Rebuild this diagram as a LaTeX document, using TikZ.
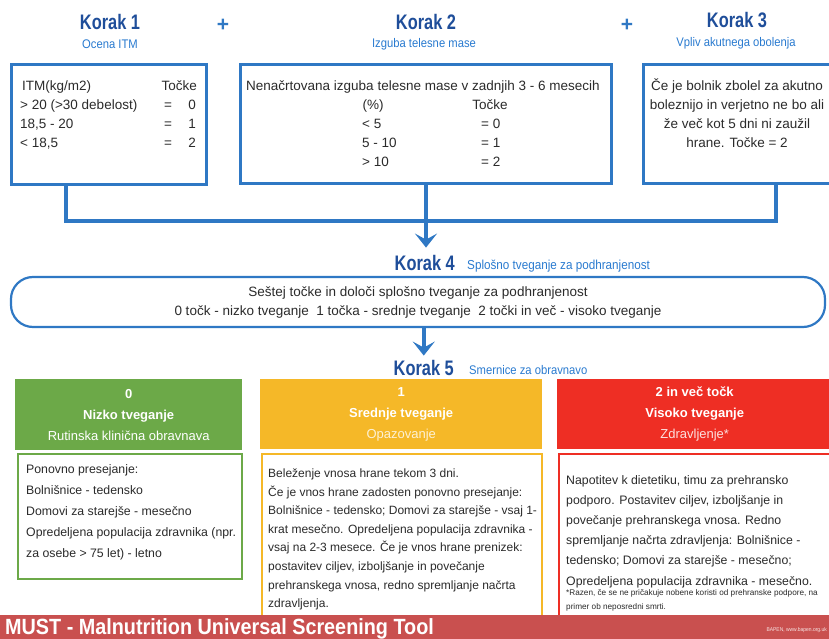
\documentclass[tikz,border=0pt]{standalone}
\usepackage{fontspec}
\setmainfont{Liberation Sans}
\newfontfamily\narrowf[FakeStretch=0.78]{Liberation Sans}
\newfontfamily\condf[FakeStretch=0.9]{Liberation Sans}
\usetikzlibrary{arrows.meta}
\definecolor{mblue}{HTML}{2F78C4}
\definecolor{mdark}{HTML}{1F4E9A}
\definecolor{msub}{HTML}{2A7BD0}
\definecolor{mgreen}{HTML}{6CA948}
\definecolor{myellow}{HTML}{F5B828}
\definecolor{mred}{HTML}{EE2E24}
\definecolor{mbar}{HTML}{C9504F}
\definecolor{mtext}{HTML}{2B2B2B}
\begin{document}
\begin{tikzpicture}[x=1pt,y=-1pt,
  bluebox/.style={draw=mblue, line width=3pt, fill=white, inner sep=0pt},
  conn/.style={draw=mblue, line width=4pt, line join=miter},
  arr/.style={-{Stealth[length=14pt,width=22pt,inset=6pt]}},
  txt/.style={text=mtext, inner sep=0pt, font=\fontsize{13.5}{19}\selectfont},
  ktitle/.style={text=mdark, inner sep=0pt, font=\narrowf\bfseries\fontsize{21}{21}\selectfont},
  ksub/.style={text=msub, inner sep=0pt, font=\condf\fontsize{12.5}{12.5}\selectfont},
  plus/.style={text=mblue, inner sep=0pt, font=\bfseries\fontsize{21}{21}\selectfont},
  head/.style={inner sep=0pt, anchor=north west, align=center, text=white, font=\fontsize{13}{21}\selectfont},
  body/.style={fill=white, line width=2pt, inner sep=0pt, anchor=north west},
  btxt/.style={text=mtext, inner sep=0pt, anchor=north west, align=left}
]
\path[use as bounding box, clip] (0,0) rectangle (829,639);
\fill[white] (0,0) rectangle (829,639);

% titles
\node[ktitle, anchor=base] (k1) at (110,29.5) {Korak 1};
\node[ksub, anchor=base] (s1) at (110,49) {Ocena ITM};
\node[plus] (p1) at (223,25) {+};
\node[ktitle, anchor=base] (k2) at (426,29.5) {Korak 2};
\node[ksub, anchor=base] (s2) at (424,48) {Izguba telesne mase};
\node[plus] (p2) at (627,25) {+};
\node[ktitle, anchor=base] (k3) at (737,27.5) {Korak 3};
\node[ksub, anchor=base] (s3) at (736,46.5) {Vpliv akutnega obolenja};

% step boxes
\node[bluebox, minimum width=195pt, minimum height=120pt, anchor=north west] (box1) at (10,63) {};
\node[bluebox, minimum width=371pt, minimum height=119pt, anchor=north west] (box2) at (239,63) {};
\node[bluebox, minimum width=200pt, minimum height=119pt, anchor=north west] (box3) at (642,63) {};

% box 1 text
\node[txt, anchor=base west] (b1h) at (22,90.5) {ITM(kg/m2)};
\node[txt, anchor=base east] (b1t) at (197,90.5) {Točke};
\foreach \y/\a/\p [count=\i] in {109.5/{> 20 (>30 debelost)}/0, 128.5/{18,5 - 20}/1, 147.5/{< 18,5}/2}{
  \node[txt, anchor=base west] (r\i) at (20,\y) {\a};
  \node[txt, anchor=base] (e\i) at (168,\y) {=};
  \node[txt, anchor=base east] (q\i) at (196,\y) {\p};
}
% box 2 text
\node[txt, anchor=base west] (b2h) at (246,90.5) {Nenačrtovana izguba telesne mase v zadnjih 3 - 6 mesecih};
\node[txt, anchor=base] (b2p) at (373,109.5) {(\%)};
\node[txt, anchor=base] (b2t) at (490,109.5) {Točke};
\foreach \y/\a/\p [count=\i] in {128.5/{< 5}/0, 147.5/{5 - 10}/1, 166.5/{> 10}/2}{
  \node[txt, anchor=base west] (w\i) at (362,\y) {\a};
  \node[txt, anchor=base west] (v\i) at (481,\y) {= \p};
}
% box 3 text
\node[txt, align=center] (b3) at (737,113) {Če je bolnik zbolel za akutno\\boleznijo in verjetno ne bo ali\\že več kot 5 dni ni zaužil\\hrane. Točke = 2};

% connectors
\coordinate (c1) at (66,221);
\coordinate (c3) at (776,221);
\draw[conn] (box1.south -| c1) -- (c1) -- (c3) -- (box3.south -| c3);

% step 4
\node[ktitle, anchor=base east] (k4) at (455,270) {Korak 4};
\node[ksub, anchor=base west, font=\condf\fontsize{13}{13}\selectfont] (s4) at (467,269) {Splošno tveganje za podhranjenost};
\draw[conn, arr] (box2.south) -- ([yshift=7pt]box2.south |- k4.north);
\node[draw=mblue, line width=2.2pt, rounded corners=22pt, minimum width=814pt, minimum height=50pt,
      txt, align=center] (k4box) at (418,302)
  {Seštej točke in določi splošno tveganje za podhranjenost\\0 točk - nizko tveganje\ \ 1 točka - srednje tveganje\ \ 2 točki in več - visoko tveganje};

% step 5
\node[ktitle, anchor=base east] (k5) at (454,375) {Korak 5};
\node[ksub, anchor=base west] (s5) at (469,374) {Smernice za obravnavo};
\draw[conn, arr] (k4box.south -| k5.north) -- ([yshift=4pt]k5.north);

% columns: headers
\node[head, fill=mgreen, minimum width=227pt, minimum height=71pt] (gh) at (15,379)
  {\textbf{0}\\\textbf{Nizko tveganje}\\Rutinska klinična obravnava};
\node[head, fill=myellow, minimum width=282pt, minimum height=70pt] (yh) at (260,379)
  {\textbf{1}\\\textbf{Srednje tveganje}\\\textcolor{white!80!myellow}{Opazovanje}};
\node[head, fill=mred, minimum width=275pt, minimum height=70pt] (rh) at (557,379)
  {\textbf{2 in več točk}\\\textbf{Visoko tveganje}\\\textcolor{white!85!mred}{Zdravljenje*}};

% columns: bodies
\node[body, draw=mgreen, minimum width=224pt, minimum height=125pt] (gb) at (17,453) {};
\node[body, draw=myellow, minimum width=280pt, minimum height=175pt] (yb) at (261,453) {};
\node[body, draw=mred, minimum width=280pt, minimum height=175pt] (rb) at (558,453) {};

\node[btxt, font=\fontsize{12.3}{21}\selectfont] (gt) at (26,464)
  {Ponovno presejanje:\\Bolnišnice - tedensko\\Domovi za starejše - mesečno\\Opredeljena populacija zdravnika (npr.\\za osebe > 75 let) - letno};
\node[btxt, font=\fontsize{12}{18.6}\selectfont] (yt) at (268,468.5)
  {Beleženje vnosa hrane tekom 3 dni.\\Če je vnos hrane zadosten ponovno presejanje:\\Bolnišnice - tedensko; Domovi za starejše - vsaj 1-\\krat mesečno. Opredeljena populacija zdravnika -\\vsaj na 2-3 mesece. Če je vnos hrane prenizek:\\postavitev ciljev, izboljšanje in povečanje\\prehranskega vnosa, redno spremljanje načrta\\zdravljenja.};
\node[btxt, font=\fontsize{12.3}{20.2}\selectfont] (rt) at (566,475)
  {Napotitev k dietetiku, timu za prehransko\\podporo. Postavitev ciljev, izboljšanje in\\povečanje prehranskega vnosa. Redno\\spremljanje načrta zdravljenja: Bolnišnice -\\tedensko; Domovi za starejše - mesečno;\\Opredeljena populacija zdravnika - mesečno.};
\node[btxt, font=\fontsize{8.2}{13.5}\selectfont] (rf) at (566,589.5)
  {*Razen, če se ne pričakuje nobene koristi od prehranske podpore, na\\primer ob neposredni smrti.};

% bottom bar
\node[fill=mbar, minimum width=829pt, minimum height=25pt, anchor=north west, inner sep=0pt] (bar) at (0,615) {};
\node[anchor=base west, inner sep=0pt, text=white, font=\condf\bfseries\fontsize{22}{22}\selectfont] (must) at (5,634.5)
  {MUST - Malnutrition Universal Screening Tool};
\node[anchor=base east, inner sep=0pt, text=white!85!mbar, font=\condf\fontsize{5.5}{5.5}\selectfont] (bapen) at (827,631)
  {BAPEN, www.bapen.org.uk};
\end{tikzpicture}
\end{document}
